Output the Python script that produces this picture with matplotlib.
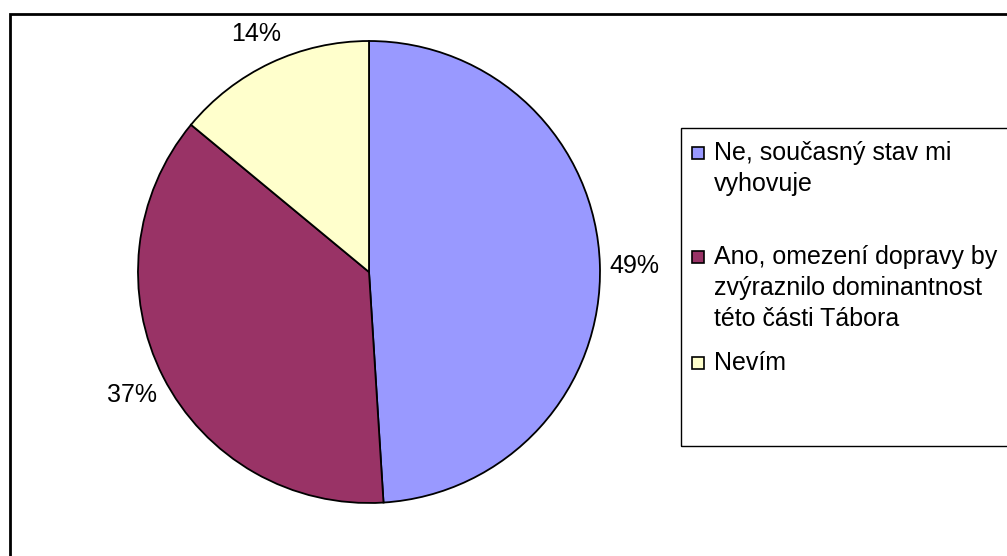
import matplotlib.pyplot as plt
from matplotlib.patches import Rectangle

# data
labels = ["Ne, současný stav mi\nvyhovuje",
          "Ano, omezení dopravy by\nzvýraznilo dominantnost\ntéto části Tábora",
          "Nevím"]
values = [49, 37, 14]
colors = ["#9999FF", "#993366", "#FFFFCC"]

W, H = 1007, 556
plt.rcParams['font.family'] = ['Liberation Sans', 'DejaVu Sans']

fig = plt.figure(figsize=(W / 100, H / 100), dpi=100)
ax = fig.add_axes([0, 0, 1, 1])

# kolac, stred a polomer v pixelech (osa y nahoru)
cx, cy, r = 369, H - 272, 231
wedges, texts = ax.pie(values, colors=colors, startangle=90, counterclock=False,
                       center=(cx, cy), radius=r,
                       labels=[f"{v}%" for v in values], labeldistance=1.15,
                       wedgeprops=dict(edgecolor='black', linewidth=1.3),
                       textprops=dict(fontsize=18, color='black'))
for t in texts:
    t.set_ha('center')
    t.set_va('center_baseline')

ax.set_xlim(0, W)
ax.set_ylim(0, H)
ax.set_axis_off()

# ramecek grafu
ax.add_patch(Rectangle((10, -20), W + 20, H - 14 + 20, fill=False,
                       edgecolor='black', linewidth=2, clip_on=False))

# legenda
ax.add_patch(Rectangle((681, H - 446), W, 446 - 128, fill=False,
                       edgecolor='black', linewidth=1, clip_on=False))
legend_base = [160, 264, 370]   # uctarie prvniho radku (px od shora)
pitch = 31
for lab, col, y in zip(labels, colors, legend_base):
    ax.add_patch(Rectangle((692, H - y + 1), 12, 12, facecolor=col,
                           edgecolor='black', linewidth=1.2))
    for i, line in enumerate(lab.split("\n")):
        ax.text(714, H - y - i * pitch, line, fontsize=18, va='baseline', ha='left')

fig.savefig("out.png", dpi=100)
